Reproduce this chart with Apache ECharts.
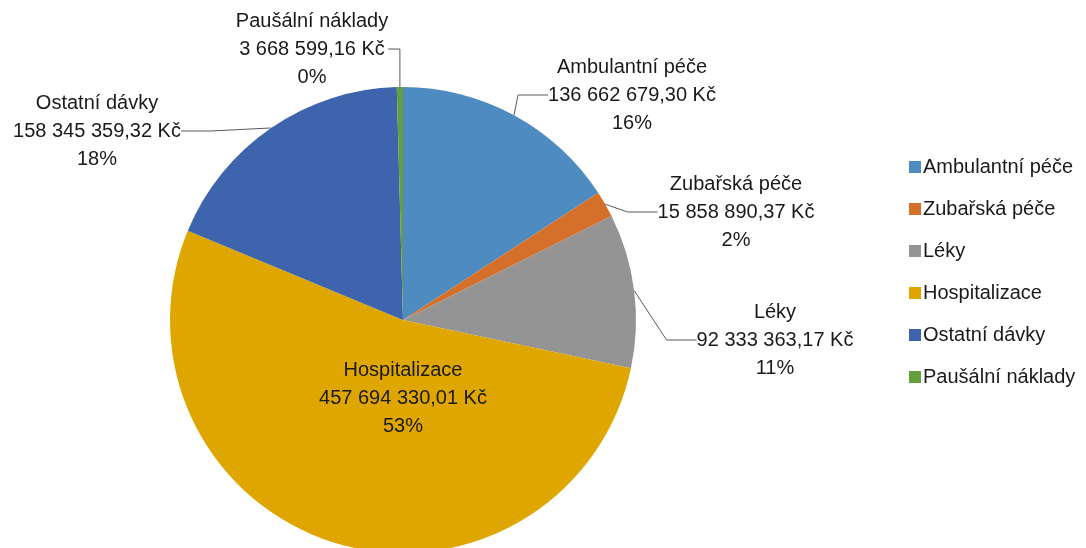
<!DOCTYPE html>
<html>
<head>
<meta charset="utf-8">
<script src="https://cdn.jsdelivr.net/npm/echarts@6/dist/echarts.min.js"></script>
<style>
  html, body { margin: 0; padding: 0; background: #fff; }
  #chart { width: 1086px; height: 548px; }
</style>
</head>
<body>
<div id="chart"></div>
<script>
// data
var categories = ['Ambulantní péče', 'Zubařská péče', 'Léky', 'Hospitalizace', 'Ostatní dávky', 'Paušální náklady'];
var values = [136662679.30, 15858890.37, 92333363.17, 457694330.01, 158345359.32, 3668599.16];
var colors = ['#4e8bc1', '#d5702b', '#949494', '#e0a600', '#3d64ad', '#63a03c'];

// label spots (centre of text block)
var labelSpots = [[632, 95], [736, 212], [775, 340], [403, 398], [97, 131], [312, 49]];

function fmtKc(v) {
  var parts = v.toFixed(2).split('.');
  var int = parts[0].replace(/\B(?=(\d{3})+(?!\d))/g, ' ');
  return int + ',' + parts[1] + ' Kč';
}

var myChart = echarts.init(document.getElementById('chart'));

var data = categories.map(function (c, i) {
  return {
    name: c,
    value: values[i],
    itemStyle: { color: colors[i] },
    label: { position: i === 3 ? 'inside' : 'outside' },
    labelLine: { show: i !== 3 }
  };
});

myChart.setOption({
  animation: false,
  textStyle: { fontFamily: 'Liberation Sans' },
  legend: {
    orient: 'vertical',
    left: 904,
    top: 152,
    itemWidth: 12,
    itemHeight: 12,
    itemGap: 22,
    icon: 'rect',
    textStyle: { fontSize: 20, color: '#1a1a1a', padding: [0, 0, 0, -3] },
    data: categories
  },
  series: [{
    type: 'pie',
    center: [403, 320],
    radius: 233,
    startAngle: 90,
    clockwise: true,
    avoidLabelOverlap: false,
    label: {
      fontSize: 20,
      lineHeight: 28,
      color: '#1a1a1a',
      align: 'center',
      formatter: function (p) {
        return p.name + '\n' + fmtKc(p.value) + '\n' + Math.round(p.percent) + '%';
      }
    },
    labelLine: {
      lineStyle: { color: '#595959', width: 1 }
    },
    labelLayout: function (params) {
      var s = labelSpots[params.dataIndex];
      return { x: s[0], y: s[1], align: 'center', verticalAlign: 'middle' };
    },
    data: data
  }]
});
</script>
</body>
</html>
